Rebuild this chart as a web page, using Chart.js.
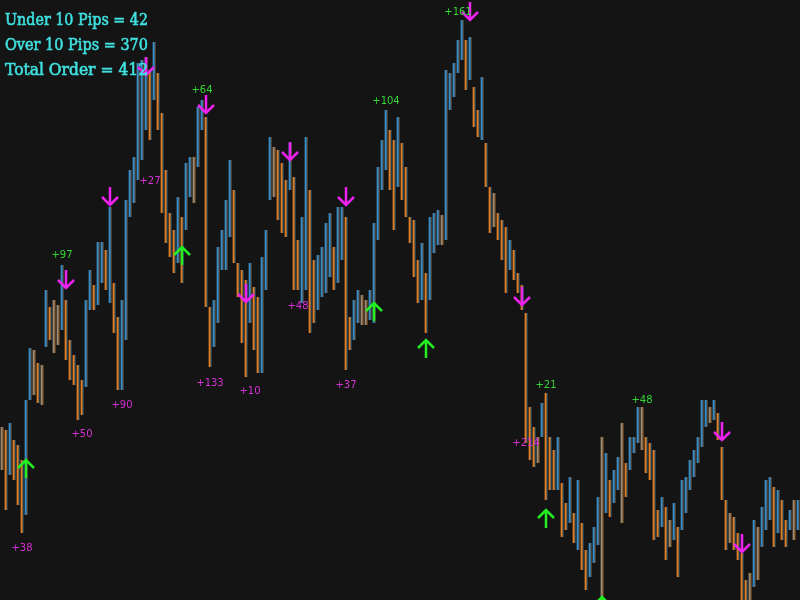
<!DOCTYPE html>
<html>
<head>
<meta charset="utf-8">
<title>Signals</title>
<script src="https://cdn.jsdelivr.net/npm/chart.js@4/dist/chart.umd.min.js"></script>
<style>
  html, body { margin: 0; padding: 0; background: #141414; }
  #wrap { width: 800px; height: 600px; }
</style>
</head>
<body>
<div id="wrap"><canvas id="priceChart" width="800" height="600"></canvas></div>
<script>
// bar highs / lows (price points)
var highs = [173,170,177,160,155,140,200,252,250,237,235,310,293,300,295,335,300,260,245,235,
  220,300,330,315,358,358,350,393,317,283,300,400,430,443,537,540,543,530,558,527,
  487,430,387,370,403,383,437,443,443,493,500,483,293,300,353,370,400,440,410,337,
  330,320,337,313,303,343,370,463,453,450,437,420,457,423,360,383,463,410,340,345,
  353,377,387,353,393,393,383,283,300,310,305,300,310,377,433,460,490,470,460,483,
  457,433,383,380,340,357,327,383,387,390,385,530,527,537,560,580,560,563,513,490,
  523,457,413,407,387,380,373,360,350,327,315,287,193,173,163,197,207,163,150,163,
  117,97,123,87,120,77,50,57,73,103,163,147,120,130,143,177,137,163,163,193,
  193,163,157,150,90,103,93,80,97,73,120,123,140,150,163,200,200,193,200,187,
  153,100,87,83,67,47,20,27,80,73,93,120,123,113,110,100,80,90,100,100];
var lows = [130,90,125,120,95,67,85,200,205,197,195,253,260,247,255,270,240,220,215,180,
  185,213,290,290,295,317,310,297,267,210,210,260,383,397,420,440,470,460,500,470,
  387,357,343,327,337,317,370,403,397,433,470,293,233,253,277,330,330,363,337,303,
  257,223,277,250,227,227,310,400,403,380,367,363,410,310,310,297,310,267,277,290,
  303,307,323,310,317,340,230,250,260,277,275,275,280,277,360,410,430,410,370,413,
  400,383,357,323,297,300,267,300,347,355,355,360,490,503,527,540,510,520,473,463,
  460,413,367,373,360,340,307,330,320,307,290,157,140,133,137,163,100,110,110,110,
  63,70,77,57,50,30,10,23,37,55,3,87,83,97,110,77,103,130,147,157,
  150,127,120,60,63,73,40,53,60,23,70,87,110,123,137,153,173,177,180,160,
  100,50,57,50,40,-10,-10,-10,13,20,53,70,80,53,67,60,53,70,60,70];

// trade signals: bar index and arrow tip price
var buyIndex = [6, 45, 93, 106, 136, 150];
var buyPrice = [140, 353, 297, 260, 90, 3];
var sellIndex = [16, 27, 36, 51, 61, 72, 86, 117, 130, 180, 185];
var sellPrice = [312, 395, 525, 487, 298, 440, 395, 580, 295, 160, 48];

// closed trade results
var buyResultIndex = [15, 50, 96, 114, 136, 160];
var buyResultText = ['+97', '+64', '+104', '+161', '+21', '+48'];
var buyResultPrice = [345, 510, 499, 588, 215, 200];
var sellResultIndex = [5, 20, 30, 37, 52, 62, 74, 86, 131];
var sellResultText = ['+38', '+50', '+90', '+27', '+133', '+10', '+48', '+37', '+214'];
var sellResultPrice = [52, 166, 195, 419, 217, 209, 294, 215, 157];

var statLines = ['Under 10 Pips = 42', 'Over 10 Pips = 370', 'Total Order = 412'];

var labels = highs.map(function (h, i) { return i; });
var ranges = highs.map(function (h, i) { return [lows[i], h]; });
var barColors = highs.map(function (h, i) {
  if (i === 0) return '#9c8a72';
  var diff = (h + lows[i]) / 2 - (highs[i - 1] + lows[i - 1]) / 2;
  if (diff > 4) return '#3a8cc4';
  if (diff < -4) return '#e07f26';
  return '#9c8a72';
});
var edgeColors = barColors.map(function (c) {
  return c === '#3a8cc4' ? '#9c8a72' : (c === '#e07f26' ? '#3a8cc4' : '#e07f26');
});

function drawArrow(ctx, x, y, up, color) {
  var d = up ? 1 : -1;
  ctx.save();
  ctx.strokeStyle = color;
  ctx.lineWidth = 2.5;
  ctx.beginPath();
  ctx.moveTo(x, y);
  ctx.lineTo(x, y + d * 18);
  ctx.moveTo(x - 8, y + d * 8);
  ctx.lineTo(x, y);
  ctx.lineTo(x + 8, y + d * 8);
  ctx.stroke();
  ctx.restore();
}

var overlay = {
  id: 'overlay',
  afterDatasetsDraw: function (chart) {
    var ctx = chart.ctx;
    var xs = chart.scales.x, ys = chart.scales.y;
    buyIndex.forEach(function (idx, k) {
      drawArrow(ctx, xs.getPixelForValue(idx), ys.getPixelForValue(buyPrice[k]), true, '#22ee22');
    });
    sellIndex.forEach(function (idx, k) {
      drawArrow(ctx, xs.getPixelForValue(idx), ys.getPixelForValue(sellPrice[k]), false, '#ee22ee');
    });
    ctx.save();
    ctx.font = '10px "DejaVu Sans"';
    ctx.textAlign = 'center';
    ctx.textBaseline = 'middle';
    ctx.fillStyle = '#33d633';
    buyResultIndex.forEach(function (idx, k) {
      ctx.fillText(buyResultText[k], xs.getPixelForValue(idx), ys.getPixelForValue(buyResultPrice[k]));
    });
    ctx.fillStyle = '#d630d6';
    sellResultIndex.forEach(function (idx, k) {
      ctx.fillText(sellResultText[k], xs.getPixelForValue(idx), ys.getPixelForValue(sellResultPrice[k]));
    });
    // stats block, slightly heavier than the plain serif
    ctx.font = '16px "DejaVu Serif"';
    ctx.textAlign = 'left';
    ctx.textBaseline = 'alphabetic';
    ctx.fillStyle = '#3fe0e0';
    ctx.strokeStyle = '#3fe0e0';
    ctx.lineWidth = 0.6;
    statLines.forEach(function (line, k) {
      ctx.fillText(line, 5, 25 + k * 25, 143);
      ctx.strokeText(line, 5, 25 + k * 25, 143);
    });
    ctx.restore();
  }
};

new Chart(document.getElementById('priceChart').getContext('2d'), {
  type: 'bar',
  data: {
    labels: labels,
    datasets: [{
      data: ranges,
      backgroundColor: barColors,
      borderColor: edgeColors,
      borderWidth: { left: 0, right: 1, top: 0, bottom: 0 },
      borderSkipped: false,
      barPercentage: 0.8,
      categoryPercentage: 1
    }]
  },
  options: {
    responsive: false,
    animation: false,
    devicePixelRatio: 1,
    layout: { padding: 0 },
    plugins: { legend: { display: false }, tooltip: { enabled: false } },
    scales: {
      x: { display: false },
      y: { display: false, min: 0, max: 600 }
    }
  },
  plugins: [overlay]
});
</script>
</body>
</html>
